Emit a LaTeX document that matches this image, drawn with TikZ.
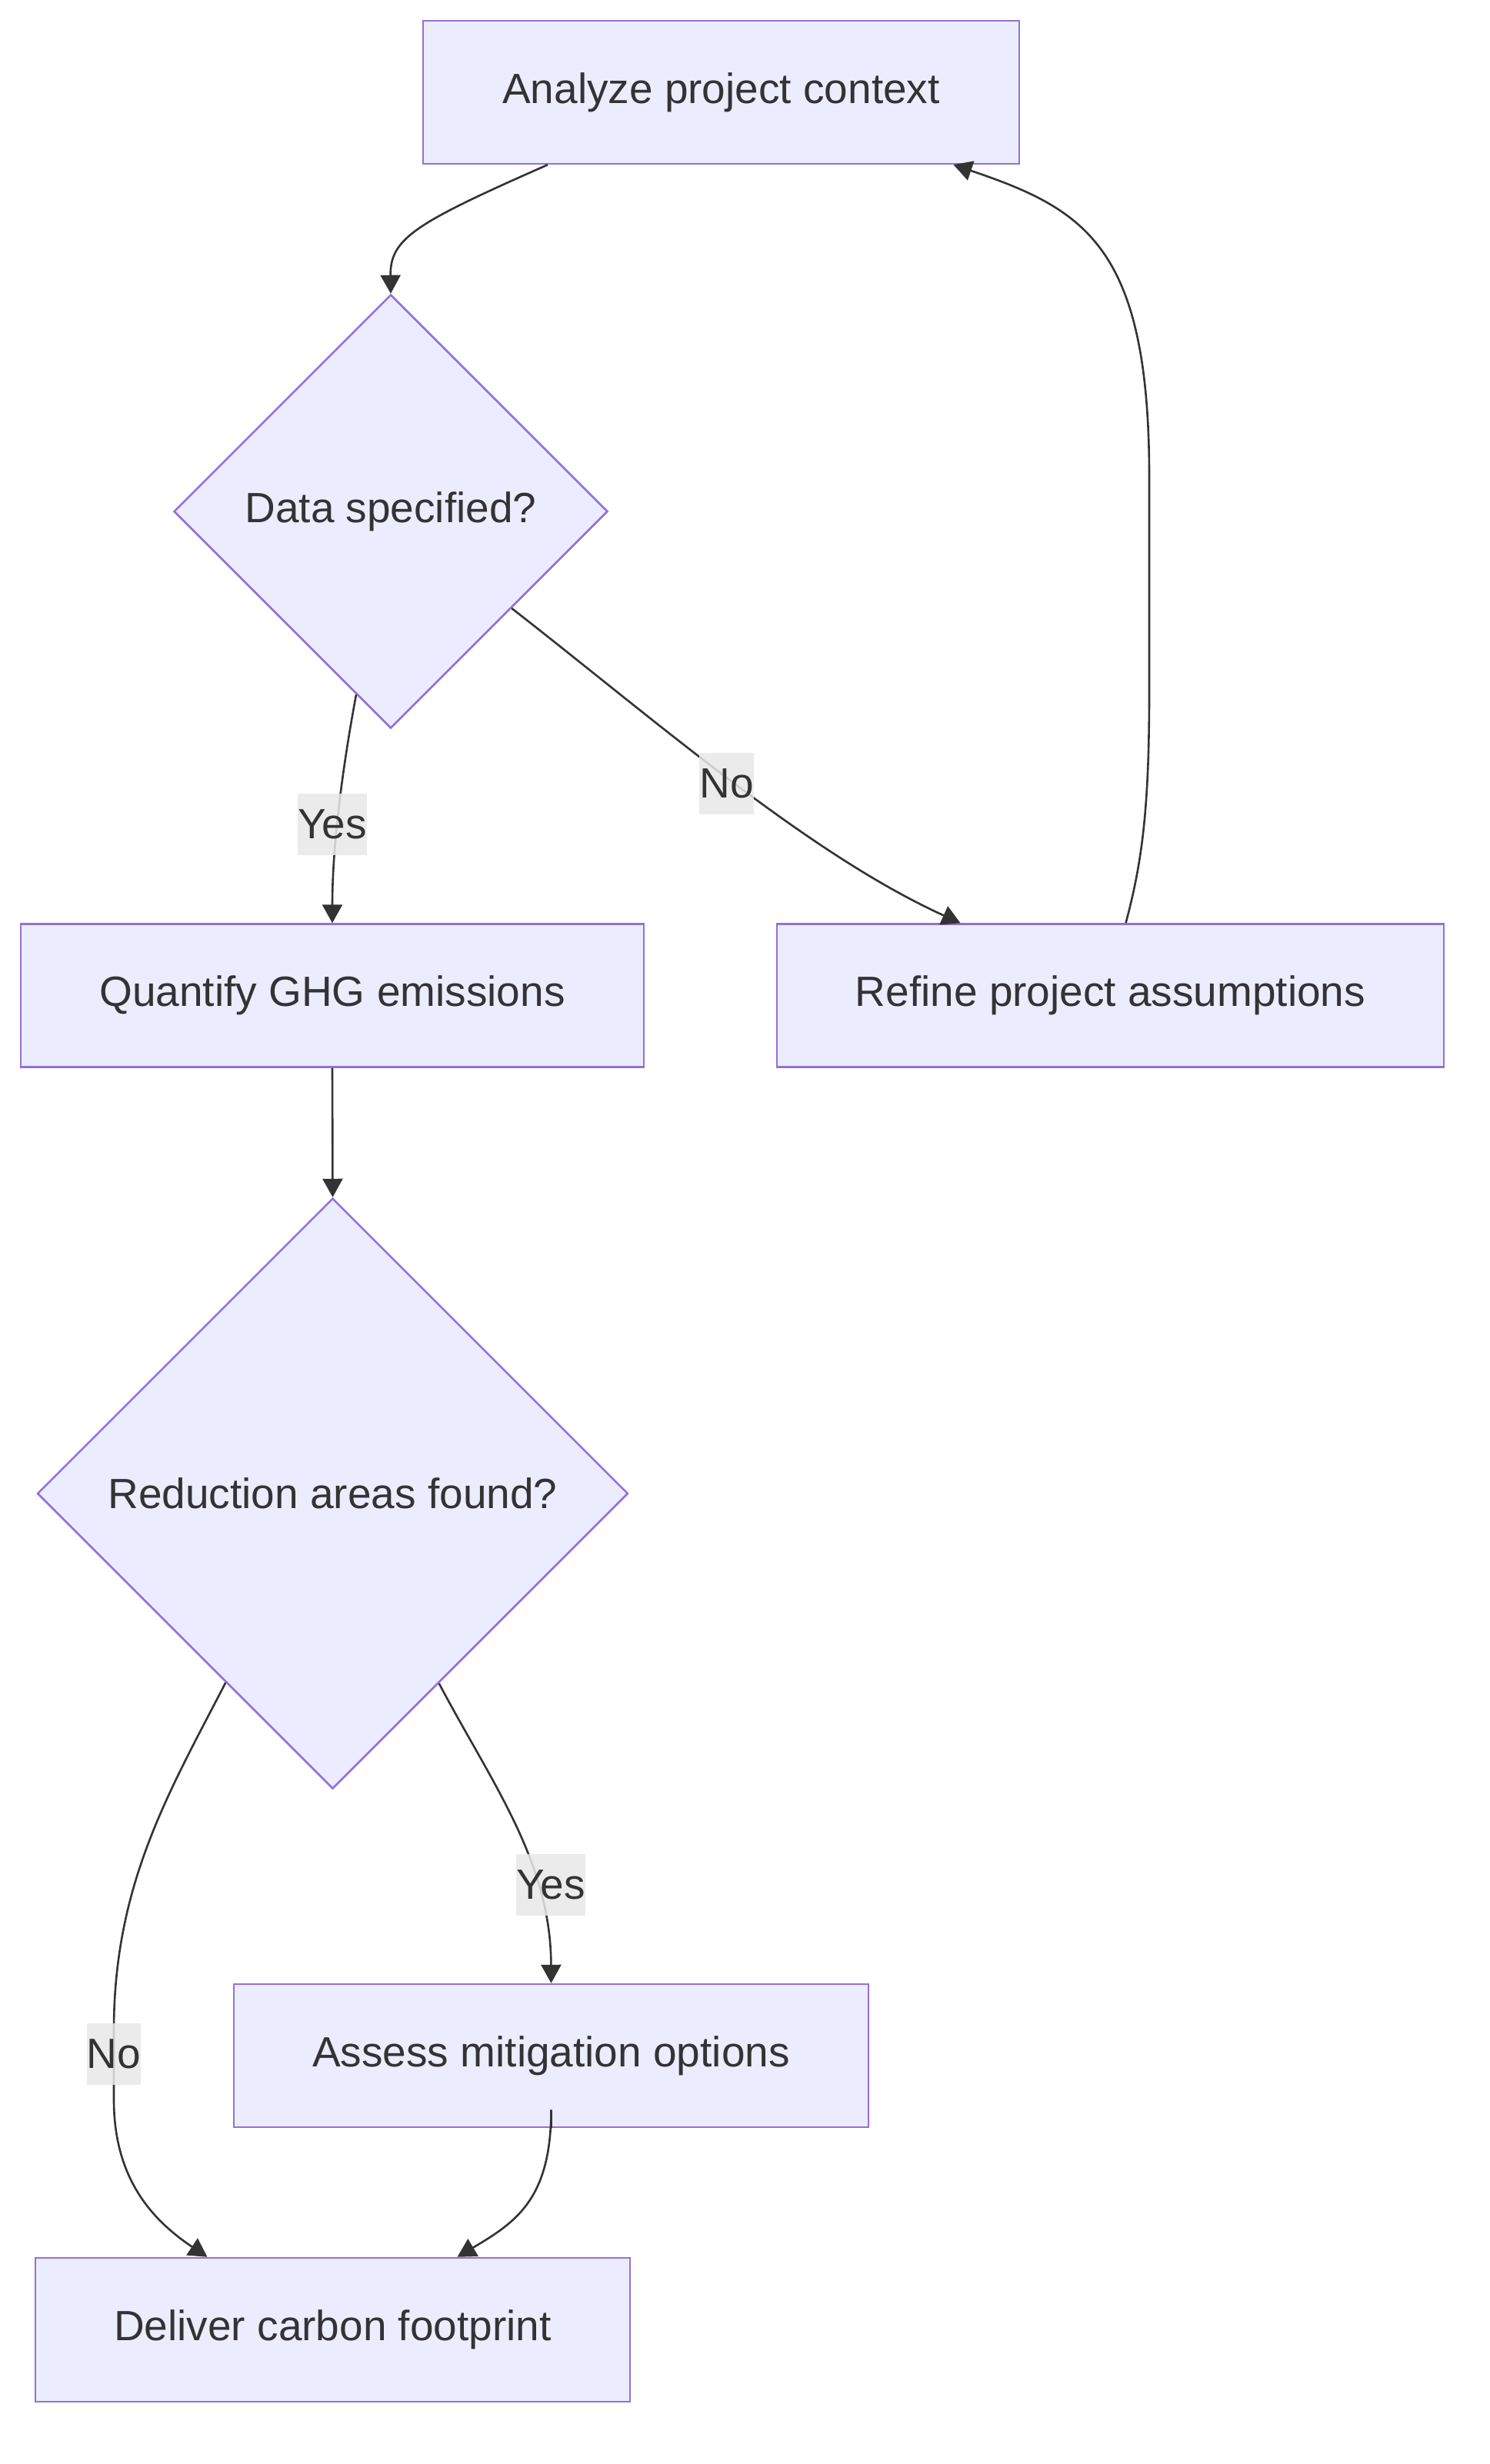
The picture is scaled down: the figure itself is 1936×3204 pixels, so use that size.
\documentclass[tikz,border=0pt]{standalone}
\usepackage{fontspec}
\setmainfont{Liberation Sans}
\usetikzlibrary{shapes.geometric,arrows.meta,calc}
\definecolor{nodefill}{HTML}{ECECFF}
\definecolor{nodeline}{HTML}{9370DB}
\definecolor{ink}{HTML}{333333}
\definecolor{lblbg}{HTML}{E8E8E8}
\newcommand{\diagfont}{\fontsize{55}{66}\selectfont}
\begin{document}
\begin{tikzpicture}[x=1pt,y=-1pt,
  box/.style={rectangle, draw=nodeline, fill=nodefill, line width=2.5pt, text=ink, font=\diagfont, inner sep=0pt},
  decision/.style={diamond, aspect=1, draw=nodeline, fill=nodefill, line width=2.5pt, text=ink, font=\diagfont, inner sep=0pt},
  edge/.style={draw=ink, line width=2.6pt, -{Triangle[length=24pt,width=26pt]}},
  elabel/.style={fill=lblbg, fill opacity=0.85, text opacity=1, text=ink, font=\diagfont, inner xsep=0pt, inner ysep=0pt, minimum height=80pt}
]
\useasboundingbox (0,0) rectangle (1936,3204);

\node[box, minimum width=775pt, minimum height=186pt] (A) at (937.5,120) {Analyze project context};
\node[decision, minimum width=564pt, minimum height=564pt] (B) at (508,665) {Data specified?};
\node[box, minimum width=810pt, minimum height=186pt] (Q) at (432,1294.5) {Quantify GHG emissions};
\node[box, minimum width=867pt, minimum height=186pt] (R) at (1443.5,1294.5) {Refine project assumptions};
\node[decision, minimum width=768pt, minimum height=768pt] (C) at (432.5,1942) {Reduction areas found?};
\node[box, minimum width=825pt, minimum height=186pt] (M) at (716.5,2673) {Assess mitigation options};
\node[box, minimum width=773pt, minimum height=187pt] (D) at (432.5,3029.5) {Deliver carbon footprint};

% edges
\draw[edge] ([xshift=-225.5pt]A.south) .. controls (540,290) and (507,310) .. (B.north);
\draw[edge] ($(B.south)+(-45,-45)$) .. controls (445,1000) and (432,1100) .. (Q.north);
\draw[edge] ($(B.east)+(-126,126)$) .. controls (850,935) and (1050,1110) .. ([xshift=-195pt]R.north);
\draw[edge] ([xshift=20pt]R.north) .. controls (1485,1120) and (1494,1050) .. (1494,900) -- (1494,620) .. controls (1494,320) and (1410,272) .. ([xshift=302pt]A.south);
\draw[edge] (Q.south) -- (C.north);
\draw[edge] ($(C.east)+(-247,247)$) .. controls (640,2320) and (716,2420) .. (M.north);
\draw[edge] ($(C.west)+(246,246)$) .. controls (220,2330) and (148,2450) .. (148,2640) -- (148,2730) .. controls (148,2830) and (195,2885) .. ([xshift=-163pt]D.north);
\draw[edge] (M.south) -- ([yshift=24pt]M.south) .. controls (716.5,2860) and (670,2890) .. ([xshift=162pt]D.north);

% edge labels
\node[elabel] (l1) at (432,1072) {Yes};
\node[elabel] (l2) at (944.5,1019) {No};
\node[elabel] (l3) at (716,2451) {Yes};
\node[elabel] (l4) at (148,2671) {No};
\end{tikzpicture}
\end{document}
